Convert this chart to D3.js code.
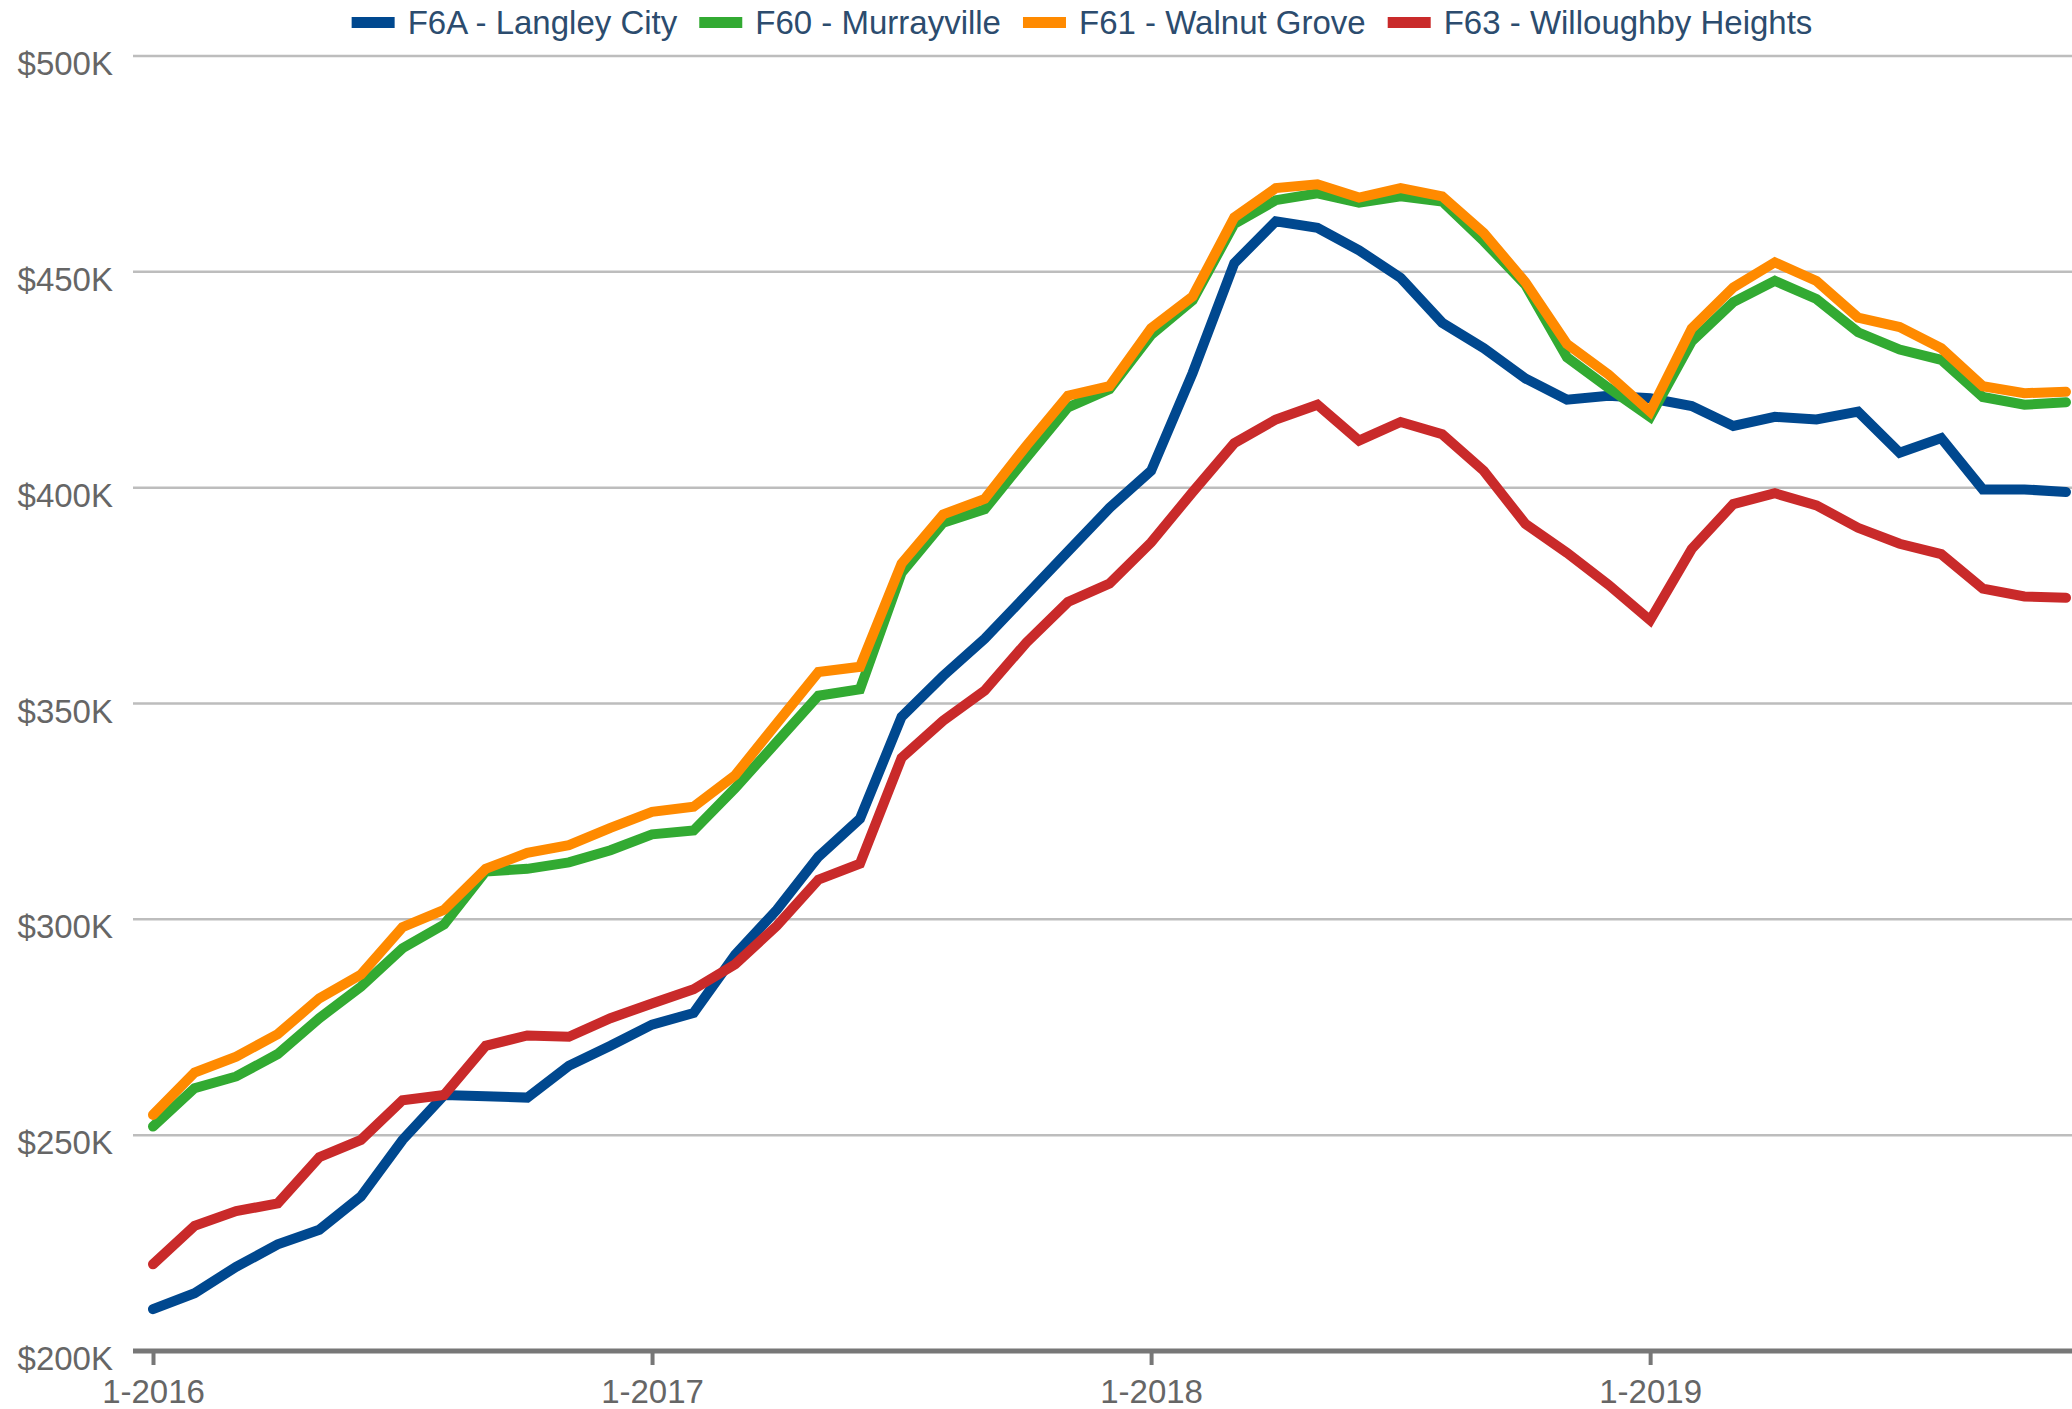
<!DOCTYPE html>
<html>
<head>
<meta charset="utf-8">
<script src="https://cdn.jsdelivr.net/npm/d3@7"></script>
<style>
  body { margin: 0; background: #fff; }
  svg { display: block; }
</style>
</head>
<body>
<div class="chart"></div>
<script>
// months, Jan 2016 .. Nov 2019
const months = [
  "1-2016","2-2016","3-2016","4-2016","5-2016","6-2016","7-2016","8-2016","9-2016","10-2016","11-2016","12-2016",
  "1-2017","2-2017","3-2017","4-2017","5-2017","6-2017","7-2017","8-2017","9-2017","10-2017","11-2017","12-2017",
  "1-2018","2-2018","3-2018","4-2018","5-2018","6-2018","7-2018","8-2018","9-2018","10-2018","11-2018","12-2018",
  "1-2019","2-2019","3-2019","4-2019","5-2019","6-2019","7-2019","8-2019","9-2019","10-2019","11-2019"
];
const tickLabels = ["1-2016", "1-2017", "1-2018", "1-2019"];
const yTicks = [200000, 250000, 300000, 350000, 400000, 450000, 500000];

// benchmark prices, in thousands
const langleyCity = [
  209.7, 213.4, 219.5, 224.7, 228.1, 235.8, 248.9, 259.3, 259.0, 258.7, 266.1, 270.7,
  275.6, 278.3, 291.8, 302.2, 314.5, 323.3, 346.9, 356.4, 365.0, 375.1, 385.2, 395.3,
  403.9, 426.6, 452.0, 461.7, 460.2, 455.0, 448.6, 438.2, 432.3, 425.3, 420.4, 421.3,
  420.7, 418.9, 414.3, 416.4, 415.8, 417.6, 408.1, 411.5, 399.6, 399.6, 399.0
];
const murrayville = [
  252.0, 260.9, 263.6, 268.8, 277.1, 284.4, 293.3, 298.8, 311.1, 311.7, 313.2, 316.0,
  319.7, 320.6, 330.4, 341.1, 351.8, 353.3, 380.3, 391.9, 395.0, 406.9, 418.6, 422.8,
  435.4, 443.4, 461.1, 466.6, 468.2, 466.0, 467.5, 466.3, 457.1, 447.0, 430.2, 423.1,
  416.4, 433.9, 443.0, 447.9, 443.7, 436.0, 432.0, 429.6, 421.0, 419.2, 419.8
];
const walnutGrove = [
  254.7, 264.5, 268.2, 273.4, 281.7, 287.2, 298.2, 302.2, 311.7, 315.4, 317.2, 321.2,
  324.9, 326.1, 333.4, 345.4, 357.3, 358.5, 382.4, 393.8, 397.4, 409.7, 421.3, 423.5,
  436.9, 444.3, 462.6, 469.4, 470.3, 467.2, 469.4, 467.5, 459.0, 447.6, 433.3, 426.2,
  417.6, 436.9, 446.4, 452.2, 447.9, 439.4, 437.2, 432.3, 423.5, 421.9, 422.2
];
const willoughby = [
  220.1, 229.0, 232.4, 234.2, 244.9, 248.9, 258.1, 259.3, 270.7, 273.1, 272.8, 277.1,
  280.5, 283.8, 289.6, 298.5, 309.2, 312.9, 337.4, 346.0, 353.0, 364.1, 373.5, 377.8,
  387.3, 399.0, 410.3, 415.8, 419.2, 410.9, 415.2, 412.4, 403.9, 391.6, 384.9, 377.5,
  369.3, 385.8, 396.2, 398.7, 395.9, 390.7, 387.0, 384.6, 376.6, 374.8, 374.5
];

const seriesNames = ["F6A - Langley City", "F60 - Murrayville", "F61 - Walnut Grove", "F63 - Willoughby Heights"];
const seriesColors = ["#00488f", "#32aa32", "#ff8a00", "#c92a2a"];
const seriesValues = [langleyCity, murrayville, walnutGrove, willoughby];

const width = 2072;
const height = 1409;
const margin = {top: 56, right: 6, bottom: 58, left: 153};
const font = "'Liberation Sans', Arial, sans-serif";

const x = d3.scalePoint()
  .domain(months)
  .range([margin.left, width - margin.right]);

const y = d3.scaleLinear()
  .domain([200000, 500000])
  .range([height - margin.bottom, margin.top]);

const svg = d3.select('.chart')
  .append('svg')
  .attr('width', width)
  .attr('height', height)
  .style('font-family', font);

// gridlines
svg.append('g')
  .selectAll('line')
  .data(yTicks.filter(d => d > 200000))
  .join('line')
    .attr('x1', 133)
    .attr('x2', width)
    .attr('y1', d => y(d))
    .attr('y2', d => y(d))
    .attr('stroke', '#bdbdbd')
    .attr('stroke-width', 2.5);

// y labels
svg.append('g')
  .selectAll('text')
  .data(yTicks)
  .join('text')
    .attr('x', 113)
    .attr('y', d => y(d) + 19)
    .attr('text-anchor', 'end')
    .attr('fill', '#666')
    .style('font-size', '33px')
    .text(d => '$' + d3.format('d')(d / 1000) + 'K');

// x axis
const xAxis = svg.append('g')
  .attr('transform', `translate(0,${y(200000)})`)
  .call(d3.axisBottom(x).tickValues(tickLabels).tickSize(14).tickPadding(15));
xAxis.select('.domain').remove();
xAxis.selectAll('.tick line')
  .attr('stroke', '#777')
  .attr('stroke-width', 4);
xAxis.selectAll('.tick text')
  .attr('fill', '#666')
  .style('font-size', '33px')
  .style('font-family', font);
xAxis.append('line')
  .attr('x1', 133)
  .attr('x2', width)
  .attr('stroke', '#777')
  .attr('stroke-width', 5);

// lines
const line = d3.line()
  .x((d, i) => x(months[i]))
  .y(d => y(d * 1000));

svg.append('g')
  .selectAll('path')
  .data(seriesValues)
  .join('path')
    .attr('d', d => line(d))
    .attr('fill', 'none')
    .attr('stroke', (d, i) => seriesColors[i])
    .attr('stroke-width', 10)
    .attr('stroke-linejoin', 'miter')
    .attr('stroke-linecap', 'round');

// legend
const legend = svg.append('g');
let lx = 0;
seriesNames.forEach((name, i) => {
  const item = legend.append('g').attr('transform', `translate(${lx},0)`);
  item.append('rect')
    .attr('x', 0)
    .attr('y', 17)
    .attr('width', 43)
    .attr('height', 11)
    .attr('fill', seriesColors[i]);
  const t = item.append('text')
    .attr('x', 56)
    .attr('y', 34)
    .attr('fill', '#2c4c6e')
    .style('font-size', '33px')
    .text(name);
  lx += 56 + t.node().getComputedTextLength() + 22;
});
const legendWidth = lx - 22;
legend.attr('transform', `translate(${1082 - legendWidth / 2},0)`);
</script>
</body>
</html>
